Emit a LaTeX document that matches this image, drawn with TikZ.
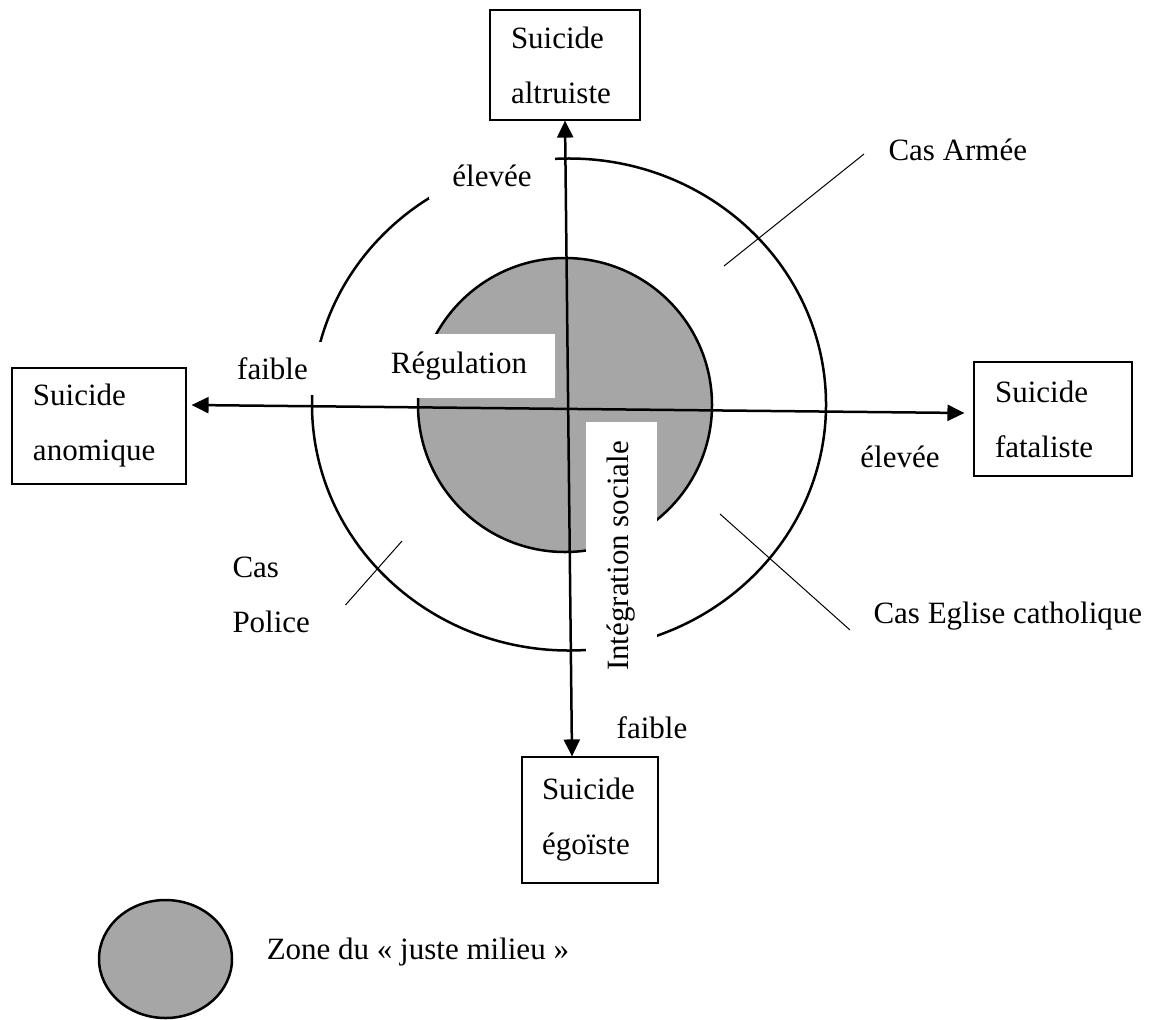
\documentclass[tikz,border=0pt]{standalone}
\usepackage{fontspec}
\setmainfont{Liberation Serif}
\usetikzlibrary{arrows.meta,shapes.geometric,positioning}
\definecolor{zonegris}{RGB}{166,166,166}

\begin{document}
\begin{tikzpicture}[x=0.4pt, y=-0.4pt, font=\fontsize{12.4}{22}\selectfont,
  >={Triangle[length=6.8pt,width=6.4pt]},
  boite/.style = {draw, line width=0.45pt, align=left, inner ysep=0pt},
  etiquette/.style = {fill=white, inner sep=0pt},
  texte/.style = {inner sep=0pt},
  axe/.style = {<->, line width=1pt},
  trait/.style = {line width=0.4pt},
  zone/.style = {draw, fill=zonegris, line width=1pt}]
\useasboundingbox (0,0) rectangle (1158,1019);
% les quatre types de suicide
\node[boite, text width=43.2pt, inner xsep=8.4pt, minimum height=44pt] (alt) at (565,65) {Suicide\\altruiste};
\node[boite, text width=52.8pt, inner xsep=8.4pt, minimum height=46.4pt] (ano) at (99,426) {Suicide\\anomique};
\node[boite, text width=46.4pt, inner xsep=8.4pt, minimum height=45.6pt] (fat) at (1053,419) {Suicide\\fataliste};
\node[boite, text width=38.4pt, inner xsep=8pt, minimum height=50.4pt] (ego) at (590,820) {Suicide\\égoïste};
% cercles
\node[draw, ellipse, line width=1pt, minimum width=205.6pt, minimum height=196.8pt, inner sep=0pt] (anneau) at (569,404.5) {};
\node[zone, circle, minimum size=117.6pt, inner sep=0pt] (milieu) at (565,405) {};
% axes
\draw[axe] ([xshift=-7.2pt]ego.north) -- (alt.south);
\draw[axe] ([xshift=2pt,yshift=8.4pt]ano.east) -- ([xshift=-3.6pt,yshift=2.4pt]fat.west);
% etiquettes sur fond blanc
\node[etiquette, minimum width=76.8pt, minimum height=25.6pt] (regul) at (459,366) {Régulation};
\node[etiquette, rotate=90, minimum width=107.2pt, minimum height=28.4pt] (integ) at (621,556) {Intégration sociale};
\node[etiquette, minimum width=50.4pt, minimum height=18.4pt] (elevh) at (492,176) {élevée};
\node[etiquette, minimum width=39.6pt, minimum height=21.2pt] (faibg) at (272.5,368.5) {faible};
\node[texte] (elevd) at (900,457) {élevée};
\node[texte] (faibb) at (652,728) {faible};
% cas
\node[texte, anchor=west] (armee) at (888,150) {Cas Armée};
\node[texte, anchor=west] (eglise) at (873,616) {Cas Eglise catholique};
\node[texte, anchor=west, align=left] (police) at (232,595) {Cas\\Police};
\coordinate (a1) at (724,266);
\coordinate (e1) at (720,514);
\coordinate (p1) at (402,541);
\draw[trait] (a1) -- ([xshift=-9.6pt,yshift=-1.6pt]armee.west);
\draw[trait] (e1) -- ([xshift=-9.2pt,yshift=-5.6pt]eglise.west);
\draw[trait] (p1) -- ([xshift=14pt,yshift=-4pt]police.east);
% legende
\node[zone, ellipse, minimum width=53.2pt, minimum height=47.2pt, inner sep=0pt] (legende) at (165.5,959) {};
\node[texte, right=13.2pt of legende, yshift=2.8pt] (legtxt) {Zone du « juste milieu »};
\end{tikzpicture}
\end{document}
